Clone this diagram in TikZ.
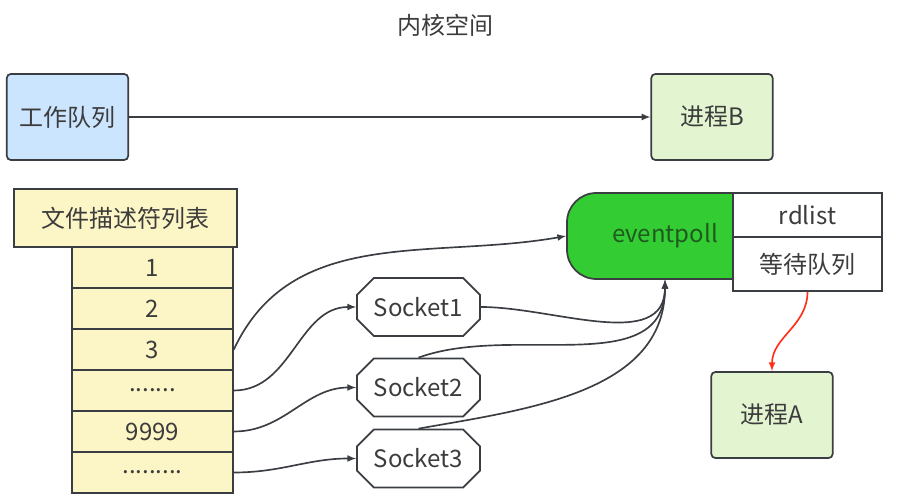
\documentclass[tikz,border=0pt]{standalone}
\usepackage{fontspec}
\setmainfont{Noto Sans CJK SC}
\usetikzlibrary{shapes.misc}

\definecolor{boxline}{HTML}{3A3D42}
\definecolor{txtgray}{HTML}{3C3C3C}
\definecolor{qblue}{HTML}{CCE5FF}
\definecolor{procgreen}{HTML}{E3F4D0}
\definecolor{fdyellow}{HTML}{FCF5C6}
\definecolor{epgreen}{HTML}{33CC33}
\definecolor{eptext}{HTML}{1F5A1F}
\definecolor{wakered}{HTML}{FF3019}

\begin{document}
\begin{tikzpicture}[x=0.75pt,y=0.75pt,
  font=\fontsize{18}{22}\selectfont, text=txtgray,
  box/.style={draw=boxline,line width=1.3pt,rounded corners=3pt,minimum width=91pt,minimum height=64.5pt},
  fdcell/.style={draw=boxline,line width=1.3pt,fill=fdyellow,minimum width=120.75pt,minimum height=30.75pt},
  sock/.style={chamfered rectangle,chamfered rectangle xsep=9pt,draw=boxline,line width=1.3pt,minimum width=92.25pt,minimum height=43.5pt},
  listbox/.style={draw=boxline,line width=1.3pt,fill=white,minimum width=111.75pt},
  link/.style={-latex,line width=1.25pt,draw=boxline}]
\useasboundingbox (0,0) rectangle (897,498);

\node (title) at (445,473) {内核空间};

\node[box,fill=qblue] (gzdl) at (67.5,381) {工作队列};
\node[box,fill=procgreen] (jcB) at (712,381) {进程B};
\draw[link] (gzdl.east) -- (jcB.west);

\node[draw=boxline,line width=1.3pt,fill=fdyellow,minimum width=167.25pt,minimum height=43.5pt] (fdlist) at (125.5,280) {文件描述符列表};
\node[fdcell] (r1) at (152.5,230.5) {1};
\node[fdcell] (r2) at (152.5,189.5) {2};
\node[fdcell] (r3) at (152.5,148.5) {3};
\node[fdcell] (r4) at (152.5,107.5) {.......};
\node[fdcell] (r5) at (152.5,66.5) {9999};
\node[fdcell] (r6) at (152.5,25.5) {.........};

\node[sock] (s1) at (418.5,191) {Socket1};
\node[sock] (s2) at (418.5,110.5) {Socket2};
\node[sock] (s3) at (418.5,39.5) {Socket3};

\node[draw=boxline,line width=1.3pt,fill=epgreen,rounded corners=22pt,minimum width=147pt,minimum height=64.5pt,text=eptext] (ep) at (665,262) {eventpoll};
\node[listbox,minimum height=33pt] (rdlist) at (807.5,283) {rdlist};
\node[listbox,minimum height=40.5pt] (dd) at (807.5,234) {等待队列};

\node[box,fill=procgreen] (jcA) at (772,83) {进程A};

\draw[link] (r3.east) to[out=65,in=190] (ep.west);
\draw[link] (r4.east) to[out=0,in=180] (s1.west);
\draw[link] (r5.east) to[out=0,in=180] (s2.west);
\draw[link] (r6.east) to[out=0,in=180] (s3.west);
\draw[link] (s1.east) to[out=0,in=-90] (ep.south);
\draw[link] (s2.north) to[out=20,in=-90] (ep.south);
\draw[link] (s3.north) to[out=10,in=-90] (ep.south);
\draw[link,draw=wakered] (dd.south) to[out=-90,in=90] (jcA.north);
\end{tikzpicture}
\end{document}
